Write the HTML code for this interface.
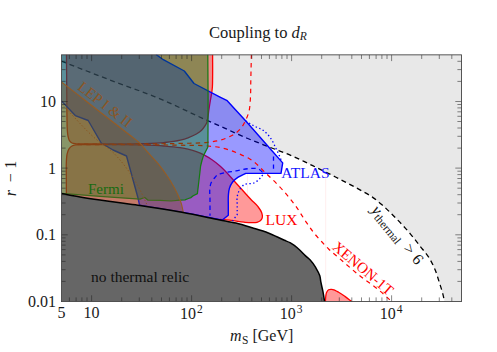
<!DOCTYPE html>
<html><head><meta charset="utf-8"><style>
html,body{margin:0;padding:0;background:#fff;}
svg{display:block}
text{font-family:"Liberation Serif",serif;}

</style></head><body>
<svg width="497" height="352" viewBox="0 0 497 352">
<rect width="497" height="352" fill="#fff"/>
<defs><clipPath id="pc"><rect x="61.5" y="54.85" width="400.0" height="246.65"/></clipPath></defs>
<g clip-path="url(#pc)" stroke-linejoin="round">
<!-- thermal coupling limit -->
<path d="M61.40,61.20 C77.60,67.47 93.77,73.81 110.00,80.00 C126.64,86.35 143.57,91.95 160.00,98.80 C176.10,105.51 191.63,113.57 207.60,120.60 C211.73,122.42 215.88,124.17 220.00,126.00 C226.70,128.98 233.28,132.26 240.00,135.20 C249.33,139.28 258.82,142.98 268.30,146.70 C275.24,149.43 282.33,151.80 289.20,154.70 C297.16,158.06 304.91,161.95 312.70,165.70 C320.34,169.38 327.94,173.15 335.50,177.00 C343.11,180.88 350.75,184.72 358.20,188.90 C363.19,191.70 368.35,194.29 373.00,197.60 C375.87,199.64 378.61,201.91 381.30,204.20 C386.29,208.44 390.90,213.13 395.50,217.80 C400.74,223.13 405.90,228.58 410.70,234.30 C413.81,238.01 416.72,241.88 419.70,245.70 C422.93,249.84 426.57,253.74 429.30,258.20 C431.55,261.87 433.45,265.81 435.10,269.80 C436.65,273.56 437.75,277.52 439.00,281.40 C440.33,285.55 441.72,289.68 442.80,293.90 C443.47,296.51 444.00,299.17 444.60,301.80 L461.60,301.80 L461.60,54.40 L61.40,54.40 Z" fill="rgba(0,0,0,0.09)"/>
<path d="M61.40,61.20 C77.60,67.47 93.77,73.81 110.00,80.00 C126.64,86.35 143.57,91.95 160.00,98.80 C176.10,105.51 191.63,113.57 207.60,120.60 C211.73,122.42 215.88,124.17 220.00,126.00 C226.70,128.98 233.28,132.26 240.00,135.20 C249.33,139.28 258.82,142.98 268.30,146.70 C275.24,149.43 282.33,151.80 289.20,154.70 C297.16,158.06 304.91,161.95 312.70,165.70 C320.34,169.38 327.94,173.15 335.50,177.00 C343.11,180.88 350.75,184.72 358.20,188.90 C363.19,191.70 368.35,194.29 373.00,197.60 C375.87,199.64 378.61,201.91 381.30,204.20 C386.29,208.44 390.90,213.13 395.50,217.80 C400.74,223.13 405.90,228.58 410.70,234.30 C413.81,238.01 416.72,241.88 419.70,245.70 C422.93,249.84 426.57,253.74 429.30,258.20 C431.55,261.87 433.45,265.81 435.10,269.80 C436.65,273.56 437.75,277.52 439.00,281.40 C440.33,285.55 441.72,289.68 442.80,293.90 C443.47,296.51 444.00,299.17 444.60,301.80" fill="none" stroke="#000" stroke-width="1.3" stroke-dasharray="5 3.7"/>
<!-- LUX -->
<g fill="rgba(255,0,0,0.4)">
<path d="M212.60,54.40 C212.60,62.27 212.73,70.13 212.60,78.00 C212.55,81.00 212.63,84.01 212.40,87.00 C212.24,89.01 211.98,91.01 211.70,93.00 C211.32,95.68 210.74,98.33 210.30,101.00 C209.80,104.00 209.34,107.00 208.90,110.00 C208.48,112.83 208.27,115.70 207.70,118.50 C207.44,119.81 207.26,121.16 206.80,122.40 C206.31,123.73 205.57,125.00 204.80,126.20 C203.88,127.63 202.80,129.01 201.60,130.20 C200.09,131.69 198.22,132.89 196.40,134.00 C193.79,135.59 190.88,136.74 188.00,137.80 C185.49,138.72 182.89,139.45 180.30,140.10 C174.98,141.43 169.46,142.00 164.00,142.60 C156.05,143.47 148.00,143.46 140.00,143.70 C126.68,144.11 113.33,143.88 100.00,143.90 C94.00,143.91 88.00,143.97 82.00,143.90 C80.00,143.88 77.98,144.05 76.00,143.80 C74.66,143.63 73.15,143.62 72.00,143.00 C71.00,142.46 70.04,141.54 69.40,140.60 C68.52,139.32 68.34,137.56 68.00,136.00 C67.57,134.04 67.47,132.00 67.30,130.00 C67.02,126.68 67.08,123.33 67.00,120.00 C66.84,113.34 66.86,106.67 66.80,100.00 C66.66,84.80 66.60,69.60 66.50,54.40 Z"/>
<path d="M82.00,144.70 C80.00,144.77 77.96,144.56 76.00,144.90 C74.65,145.14 73.17,145.34 72.00,146.00 C70.84,146.65 69.77,147.72 69.00,148.80 C67.96,150.26 67.54,152.22 67.10,154.00 C66.55,156.26 66.56,158.66 66.40,161.00 C66.08,165.65 66.31,170.33 66.30,175.00 C66.29,181.40 66.37,187.80 66.40,194.20 L66.50,205.00 L220.00,228.00 L220.00,219.30 C224.33,219.73 228.68,220.06 233.00,220.60 C236.68,221.06 240.32,221.84 244.00,222.20 C246.66,222.46 249.34,222.77 252.00,222.70 C253.67,222.66 255.42,222.76 257.00,222.30 C258.14,221.97 259.41,221.56 260.30,220.80 C261.00,220.20 261.65,219.36 262.00,218.50 C262.31,217.74 262.40,216.83 262.40,216.00 C262.40,214.82 261.99,213.62 261.60,212.50 C260.82,210.27 259.26,208.28 257.80,206.40 C255.97,204.03 253.50,202.16 251.40,200.00 C245.82,194.27 240.73,188.07 235.30,182.20 C230.26,176.75 225.63,170.82 220.00,166.00 C217.44,163.81 214.78,161.70 212.00,159.80 C209.56,158.14 207.02,156.57 204.40,155.20 C201.82,153.84 199.14,152.60 196.40,151.60 C193.67,150.60 190.83,149.86 188.00,149.20 C185.36,148.58 182.68,148.13 180.00,147.70 C174.71,146.85 169.34,146.44 164.00,146.00 C156.02,145.35 148.00,145.14 140.00,144.90 C126.68,144.49 113.33,144.72 100.00,144.70 C94.00,144.69 88.00,144.70 82.00,144.70 Z"/>
<path d="M325.40,301.80 C325.53,299.87 325.48,297.90 325.80,296.00 C326.02,294.72 326.13,293.34 326.70,292.20 C327.16,291.28 327.76,290.18 328.60,289.70 C329.39,289.26 330.55,289.25 331.50,289.30 C332.69,289.36 333.88,289.86 335.00,290.30 C336.26,290.80 337.42,291.52 338.60,292.20 C340.79,293.46 342.84,294.94 344.90,296.40 C347.32,298.12 349.63,300.00 352.00,301.80 Z"/>
</g>
<path d="M325.7,176 V301 M247.4,174 V197" stroke="rgba(255,0,0,0.09)" stroke-width="0.8" fill="none"/>
<g fill="none" stroke="#ff0000" stroke-width="1.3">
<path d="M212.60,54.40 C212.60,62.27 212.73,70.13 212.60,78.00 C212.55,81.00 212.63,84.01 212.40,87.00 C212.24,89.01 211.98,91.01 211.70,93.00 C211.32,95.68 210.74,98.33 210.30,101.00 C209.80,104.00 209.34,107.00 208.90,110.00 C208.48,112.83 208.27,115.70 207.70,118.50 C207.44,119.81 207.26,121.16 206.80,122.40 C206.31,123.73 205.57,125.00 204.80,126.20 C203.88,127.63 202.80,129.01 201.60,130.20 C200.09,131.69 198.22,132.89 196.40,134.00 C193.79,135.59 190.88,136.74 188.00,137.80 C185.49,138.72 182.89,139.45 180.30,140.10 C174.98,141.43 169.46,142.00 164.00,142.60 C156.05,143.47 148.00,143.46 140.00,143.70 C126.68,144.11 113.33,143.88 100.00,143.90 C94.00,143.91 88.00,143.97 82.00,143.90 C80.00,143.88 77.98,144.05 76.00,143.80 C74.66,143.63 73.15,143.62 72.00,143.00 C71.00,142.46 70.04,141.54 69.40,140.60 C68.52,139.32 68.34,137.56 68.00,136.00 C67.57,134.04 67.47,132.00 67.30,130.00 C67.02,126.68 67.08,123.33 67.00,120.00 C66.84,113.34 66.86,106.67 66.80,100.00 C66.66,84.80 66.60,69.60 66.50,54.40"/>
<path d="M82.00,144.70 C80.00,144.77 77.96,144.56 76.00,144.90 C74.65,145.14 73.17,145.34 72.00,146.00 C70.84,146.65 69.77,147.72 69.00,148.80 C67.96,150.26 67.54,152.22 67.10,154.00 C66.55,156.26 66.56,158.66 66.40,161.00 C66.08,165.65 66.31,170.33 66.30,175.00 C66.29,181.40 66.37,187.80 66.40,194.20"/>
<path d="M220.00,219.30 C224.33,219.73 228.68,220.06 233.00,220.60 C236.68,221.06 240.32,221.84 244.00,222.20 C246.66,222.46 249.34,222.77 252.00,222.70 C253.67,222.66 255.42,222.76 257.00,222.30 C258.14,221.97 259.41,221.56 260.30,220.80 C261.00,220.20 261.65,219.36 262.00,218.50 C262.31,217.74 262.40,216.83 262.40,216.00 C262.40,214.82 261.99,213.62 261.60,212.50 C260.82,210.27 259.26,208.28 257.80,206.40 C255.97,204.03 253.50,202.16 251.40,200.00 C245.82,194.27 240.73,188.07 235.30,182.20 C230.26,176.75 225.63,170.82 220.00,166.00 C217.44,163.81 214.78,161.70 212.00,159.80 C209.56,158.14 207.02,156.57 204.40,155.20 C201.82,153.84 199.14,152.60 196.40,151.60 C193.67,150.60 190.83,149.86 188.00,149.20 C185.36,148.58 182.68,148.13 180.00,147.70 C174.71,146.85 169.34,146.44 164.00,146.00 C156.02,145.35 148.00,145.14 140.00,144.90 C126.68,144.49 113.33,144.72 100.00,144.70 C94.00,144.69 88.00,144.70 82.00,144.70"/>
<path d="M325.40,301.80 C325.53,299.87 325.48,297.90 325.80,296.00 C326.02,294.72 326.13,293.34 326.70,292.20 C327.16,291.28 327.76,290.18 328.60,289.70 C329.39,289.26 330.55,289.25 331.50,289.30 C332.69,289.36 333.88,289.86 335.00,290.30 C336.26,290.80 337.42,291.52 338.60,292.20 C340.79,293.46 342.84,294.94 344.90,296.40 C347.32,298.12 349.63,300.00 352.00,301.80"/>
</g>
<!-- ATLAS -->
<path d="M61.40,54.40 L156.00,54.40 L163.30,59.70 L184.30,71.00 L194.00,83.50 L220.00,97.10 L227.20,100.70 L245.80,121.00 L271.30,150.00 L282.70,162.90 L281.00,173.40 L245.80,173.40 L245.80,173.40 C243.27,174.67 240.53,175.62 238.20,177.20 C236.18,178.57 234.08,180.10 232.60,182.00 C231.17,183.85 230.10,186.15 229.40,188.40 C228.75,190.50 228.61,192.79 228.40,195.00 C228.09,198.31 228.33,201.67 228.30,205.00 L228.30,205.00 L228.30,215.20 L222.60,219.80 L220.00,228.00 L139.50,212.00 L139.50,204.80 L138.00,198.00 L126.50,156.00 L113.00,150.00 L101.20,143.00 L88.20,120.50 L75.30,115.60 L61.40,100.90 Z" fill="rgba(0,0,255,0.4)"/>
<g fill="none" stroke="#0000ff" stroke-width="1.4">
<path d="M156.00,54.40 L163.30,59.70 L184.30,71.00 L194.00,83.50 L220.00,97.10 L227.20,100.70 L245.80,121.00 L271.30,150.00 L282.70,162.90 L281.00,173.40 L245.80,173.40 L245.80,173.40 C243.27,174.67 240.53,175.62 238.20,177.20 C236.18,178.57 234.08,180.10 232.60,182.00 C231.17,183.85 230.10,186.15 229.40,188.40 C228.75,190.50 228.61,192.79 228.40,195.00 C228.09,198.31 228.33,201.67 228.30,205.00 L228.30,205.00 L228.30,215.20 L222.60,219.80"/>
<path d="M222.60,220.30 L181.90,212.30 L139.50,205.20"/>
<path d="M139.50,204.80 L138.00,198.00 L126.50,156.00 L113.00,150.00 L101.20,143.00 L88.20,120.50 L75.30,115.60 L61.40,100.90"/>
</g>
<g fill="none" stroke="#0000ff" stroke-width="1.3" stroke-dasharray="4.4 3.6">
<path d="M273.50,156.40 L273.50,171.50"/>
<path d="M262.50,172.20 C261.60,171.40 260.81,170.42 259.80,169.80 C258.81,169.19 257.64,168.75 256.50,168.50 C255.06,168.18 253.50,168.38 252.00,168.40 C246.62,168.49 241.33,170.02 236.00,170.90 C231.33,171.67 226.57,172.10 222.00,173.30 C220.73,173.64 219.33,173.80 218.20,174.40 C216.59,175.26 215.39,176.95 214.20,178.40 C212.89,179.99 211.50,181.69 210.80,183.60 C210.35,184.83 210.20,186.19 210.00,187.50 C209.36,191.60 210.00,195.83 210.00,200.00 C210.00,205.27 210.00,210.53 210.00,215.80"/>
</g>
<g fill="none" stroke="#0000ff" stroke-width="1.3" stroke-dasharray="1.4 2.4">
<path d="M245.80,121.00 C248.47,122.60 251.08,124.30 253.80,125.80 C256.96,127.54 260.66,128.49 263.50,130.60 C266.64,132.94 269.34,136.19 271.50,139.50 C273.12,141.97 274.21,144.81 275.50,147.50 C276.53,149.65 277.49,151.84 278.50,154.00 C279.13,155.34 279.89,156.62 280.40,158.00 C280.88,159.29 281.13,160.67 281.50,162.00"/>
<path d="M262.70,175.00 C261.33,176.60 260.17,178.43 258.60,179.80 C257.17,181.06 255.51,182.21 253.80,183.00 C250.91,184.33 246.79,182.98 244.20,184.60 C242.20,185.85 240.48,188.15 239.30,190.30 C238.24,192.23 237.59,194.52 237.20,196.70 C236.72,199.39 237.20,202.23 237.20,205.00 L237.20,214.60 L232.50,221.00"/>
</g>
<!-- XENON1T projection -->
<g fill="none" stroke="#ff0000" stroke-width="1.2" stroke-dasharray="4.4 4.2">
<path d="M251.40,54.40 C251.20,62.93 251.01,71.47 250.80,80.00 C250.64,86.67 250.85,93.36 250.30,100.00 C249.99,103.78 249.92,107.65 249.00,111.30 C248.25,114.28 247.11,117.22 245.80,120.00 C244.46,122.85 243.00,125.78 241.00,128.20 C239.54,129.97 237.82,131.61 236.00,133.00 C233.60,134.83 230.77,136.16 228.00,137.40 C225.42,138.56 222.72,139.54 220.00,140.30 C215.98,141.42 211.75,141.79 207.60,142.30 C198.48,143.42 189.20,143.14 180.00,143.40 C166.67,143.78 153.33,143.79 140.00,143.90 C119.23,144.07 98.47,143.97 77.70,144.00"/>
<path d="M77.70,144.60 C98.47,144.67 119.23,144.65 140.00,144.80 C153.33,144.90 166.67,144.92 180.00,145.20 C189.20,145.40 198.44,145.16 207.60,146.00 C211.74,146.38 215.93,146.67 220.00,147.50 C223.82,148.28 227.60,149.43 231.30,150.70 C235.63,152.19 239.86,154.03 244.00,156.00 C245.68,156.80 247.38,157.59 249.00,158.50 C255.80,162.33 260.99,168.64 266.70,174.00 C272.81,179.74 278.88,185.60 284.40,191.90 C288.36,196.43 292.17,201.13 295.70,206.00 C299.39,211.08 302.44,216.62 306.00,221.80 C308.60,225.58 311.13,229.43 314.00,233.00 C316.51,236.12 319.29,239.04 322.00,242.00 C324.17,244.36 326.31,246.76 328.60,249.00 C332.19,252.52 336.19,255.61 340.00,258.90 C346.57,264.57 353.03,270.38 359.80,275.80 C366.25,280.96 373.29,285.38 379.60,290.70 C383.37,293.88 386.93,297.30 390.60,300.60"/>
</g>
<!-- Fermi -->
<path d="M61.40,54.40 L207.80,54.40 L208.10,100.00 L208.00,130.00 L207.90,147.00 L203.60,155.40 L202.10,160.00 L200.60,166.00 L199.60,175.00 L197.40,193.60 L193.20,195.80 L191.00,197.60 L188.40,198.50 L185.00,199.80 L180.00,200.20 L171.00,201.00 L160.00,200.40 L148.00,200.20 L144.80,197.50 L140.00,199.20 L100.00,196.40 L61.40,193.30 Z" fill="rgba(0,128,10,0.41)"/>
<path d="M207.80,54.40 L208.10,100.00 L208.00,130.00 L207.90,147.00 L203.60,155.40 L202.10,160.00 L200.60,166.00 L199.60,175.00 L197.40,193.60 L193.20,195.80 L191.00,197.60 L188.40,198.50 L185.00,199.80 L180.00,200.20 L171.00,201.00 L160.00,200.40 L148.00,200.20 L144.80,197.50 L140.00,199.20 L100.00,196.40 L61.40,193.30" fill="none" stroke="#167a14" stroke-width="1.25"/>
<!-- LEP -->
<path d="M61.40,82.00 C64.27,84.20 67.14,86.39 70.00,88.60 C75.02,92.47 80.00,96.40 85.00,100.30 C90.00,104.20 95.00,108.10 100.00,112.00 C109.99,119.78 120.05,127.47 130.00,135.30 C133.34,137.93 136.97,140.25 140.00,143.20 C142.71,145.84 144.90,149.03 147.40,151.90 C151.09,156.13 155.17,160.04 158.70,164.40 C161.71,168.12 164.53,172.02 167.20,176.00 C168.15,177.42 169.09,178.85 170.00,180.30 C172.52,184.34 174.88,188.50 176.90,192.80 C178.64,196.50 180.37,200.28 181.50,204.20 C182.24,206.75 182.63,209.40 183.20,212.00 L184.00,220.00 L61.40,205.00 Z" fill="rgba(119,80,42,0.43)"/>
<path d="M61.40,82.00 C64.27,84.20 67.14,86.39 70.00,88.60 C75.02,92.47 80.00,96.40 85.00,100.30 C90.00,104.20 95.00,108.10 100.00,112.00 C109.99,119.78 120.05,127.47 130.00,135.30 C133.34,137.93 136.97,140.25 140.00,143.20 C142.71,145.84 144.90,149.03 147.40,151.90 C151.09,156.13 155.17,160.04 158.70,164.40 C161.71,168.12 164.53,172.02 167.20,176.00 C168.15,177.42 169.09,178.85 170.00,180.30 C172.52,184.34 174.88,188.50 176.90,192.80 C178.64,196.50 180.37,200.28 181.50,204.20 C182.24,206.75 182.63,209.40 183.20,212.00" fill="none" stroke="#985c22" stroke-width="1.1"/>
<path d="M63.20,105.60 C75.53,117.93 86.48,131.89 100.20,142.60 C103.71,145.34 107.67,147.56 111.00,150.50 C114.26,153.37 117.16,156.70 120.00,160.00 C123.50,164.06 126.76,168.38 129.80,172.80 C132.67,176.96 135.37,181.27 137.80,185.70 C139.59,188.96 141.20,192.33 142.80,195.70 C144.26,198.77 145.72,201.85 147.00,205.00 C147.13,205.33 147.27,205.67 147.40,206.00" fill="none" stroke="#8a5420" stroke-width="1.0" stroke-dasharray="1.3 2.1"/>
<!-- no thermal relic -->
<path d="M61.40,193.60 C67.60,194.70 73.79,195.87 80.00,196.90 C86.65,198.01 93.33,199.02 100.00,200.00 C106.66,200.98 113.33,201.90 120.00,202.80 C126.66,203.70 133.34,204.46 140.00,205.40 C154.01,207.38 167.98,209.76 181.90,212.30 C194.64,214.63 207.30,217.36 220.00,219.90 C225.33,220.97 230.72,221.81 236.00,223.10 C241.46,224.43 246.82,226.15 252.20,227.80 C257.59,229.45 263.05,230.98 268.30,233.00 C273.79,235.12 279.00,237.95 284.40,240.30 C286.26,241.11 288.21,241.76 290.00,242.70 C293.56,244.57 296.69,247.31 299.70,250.00 C301.66,251.76 303.36,253.81 305.30,255.60 C306.82,257.01 308.57,258.21 310.00,259.70 C312.27,262.06 314.11,264.88 315.80,267.70 C317.34,270.27 318.95,272.94 319.80,275.80 C320.41,277.85 320.50,280.07 320.90,282.20 C321.52,285.45 322.39,288.65 323.00,291.90 C323.62,295.18 324.07,298.50 324.60,301.80 L61.40,301.80 Z" fill="#666"/>
<path d="M61.40,193.60 C67.60,194.70 73.79,195.87 80.00,196.90 C86.65,198.01 93.33,199.02 100.00,200.00 C106.66,200.98 113.33,201.90 120.00,202.80 C126.66,203.70 133.34,204.46 140.00,205.40 C154.01,207.38 167.98,209.76 181.90,212.30 C194.64,214.63 207.30,217.36 220.00,219.90 C225.33,220.97 230.72,221.81 236.00,223.10 C241.46,224.43 246.82,226.15 252.20,227.80 C257.59,229.45 263.05,230.98 268.30,233.00 C273.79,235.12 279.00,237.95 284.40,240.30 C286.26,241.11 288.21,241.76 290.00,242.70 C293.56,244.57 296.69,247.31 299.70,250.00 C301.66,251.76 303.36,253.81 305.30,255.60 C306.82,257.01 308.57,258.21 310.00,259.70 C312.27,262.06 314.11,264.88 315.80,267.70 C317.34,270.27 318.95,272.94 319.80,275.80 C320.41,277.85 320.50,280.07 320.90,282.20 C321.52,285.45 322.39,288.65 323.00,291.90 C323.62,295.18 324.07,298.50 324.60,301.80" fill="none" stroke="#000" stroke-width="1.5"/>
</g>
<!-- frame & ticks -->
<path d="M69.4,301.5 v-4.1 M69.4,54.9 v4.1 M76.1,301.5 v-4.1 M76.1,54.9 v4.1 M81.9,301.5 v-4.1 M81.9,54.9 v4.1 M87.0,301.5 v-4.1 M87.0,54.9 v4.1 M91.6,301.5 v-6.2 M91.6,54.9 v6.2 M121.7,301.5 v-4.1 M121.7,54.9 v4.1 M139.3,301.5 v-4.1 M139.3,54.9 v4.1 M151.8,301.5 v-4.1 M151.8,54.9 v4.1 M161.5,301.5 v-4.1 M161.5,54.9 v4.1 M169.4,301.5 v-4.1 M169.4,54.9 v4.1 M176.1,301.5 v-4.1 M176.1,54.9 v4.1 M181.9,301.5 v-4.1 M181.9,54.9 v4.1 M187.0,301.5 v-4.1 M187.0,54.9 v4.1 M191.6,301.5 v-6.2 M191.6,54.9 v6.2 M221.7,301.5 v-4.1 M221.7,54.9 v4.1 M239.3,301.5 v-4.1 M239.3,54.9 v4.1 M251.8,301.5 v-4.1 M251.8,54.9 v4.1 M261.5,301.5 v-4.1 M261.5,54.9 v4.1 M269.4,301.5 v-4.1 M269.4,54.9 v4.1 M276.1,301.5 v-4.1 M276.1,54.9 v4.1 M281.9,301.5 v-4.1 M281.9,54.9 v4.1 M287.0,301.5 v-4.1 M287.0,54.9 v4.1 M291.6,301.5 v-6.2 M291.6,54.9 v6.2 M321.7,301.5 v-4.1 M321.7,54.9 v4.1 M339.3,301.5 v-4.1 M339.3,54.9 v4.1 M351.8,301.5 v-4.1 M351.8,54.9 v4.1 M361.5,301.5 v-4.1 M361.5,54.9 v4.1 M369.4,301.5 v-4.1 M369.4,54.9 v4.1 M376.1,301.5 v-4.1 M376.1,54.9 v4.1 M381.9,301.5 v-4.1 M381.9,54.9 v4.1 M387.0,301.5 v-4.1 M387.0,54.9 v4.1 M391.6,301.5 v-6.2 M391.6,54.9 v6.2 M421.7,301.5 v-4.1 M421.7,54.9 v4.1 M439.3,301.5 v-4.1 M439.3,54.9 v4.1 M451.8,301.5 v-4.1 M451.8,54.9 v4.1 M61.5,281.4 h4.1 M461.5,281.4 h-4.1 M61.5,269.7 h4.1 M461.5,269.7 h-4.1 M61.5,261.4 h4.1 M461.5,261.4 h-4.1 M61.5,254.9 h4.1 M461.5,254.9 h-4.1 M61.5,249.6 h4.1 M461.5,249.6 h-4.1 M61.5,245.1 h4.1 M461.5,245.1 h-4.1 M61.5,241.3 h4.1 M461.5,241.3 h-4.1 M61.5,237.9 h4.1 M461.5,237.9 h-4.1 M61.5,234.8 h6.2 M461.5,234.8 h-6.2 M61.5,214.7 h4.1 M461.5,214.7 h-4.1 M61.5,203.0 h4.1 M461.5,203.0 h-4.1 M61.5,194.7 h4.1 M461.5,194.7 h-4.1 M61.5,188.2 h4.1 M461.5,188.2 h-4.1 M61.5,182.9 h4.1 M461.5,182.9 h-4.1 M61.5,178.5 h4.1 M461.5,178.5 h-4.1 M61.5,174.6 h4.1 M461.5,174.6 h-4.1 M61.5,171.2 h4.1 M461.5,171.2 h-4.1 M61.5,168.1 h6.2 M461.5,168.1 h-6.2 M61.5,148.1 h4.1 M461.5,148.1 h-4.1 M61.5,136.3 h4.1 M461.5,136.3 h-4.1 M61.5,128.0 h4.1 M461.5,128.0 h-4.1 M61.5,121.5 h4.1 M461.5,121.5 h-4.1 M61.5,116.3 h4.1 M461.5,116.3 h-4.1 M61.5,111.8 h4.1 M461.5,111.8 h-4.1 M61.5,107.9 h4.1 M461.5,107.9 h-4.1 M61.5,104.5 h4.1 M461.5,104.5 h-4.1 M61.5,101.5 h6.2 M461.5,101.5 h-6.2 M61.5,81.4 h4.1 M461.5,81.4 h-4.1 M61.5,69.6 h4.1 M461.5,69.6 h-4.1 M61.5,61.3 h4.1 M461.5,61.3 h-4.1" stroke="#222" stroke-width="0.55" fill="none"/>
<rect x="61.5" y="54.85" width="400.0" height="246.7" fill="none" stroke="#444" stroke-width="0.9"/>
<!-- labels -->
<text x="209" y="37.8" font-size="16.5" fill="#1a1a1a">Coupling to <tspan font-style="italic">d</tspan><tspan font-style="italic" font-size="11.5" dy="2.6">R</tspan></text>
<text x="56" y="106.7" font-size="16" fill="#1a1a1a" text-anchor="end">10</text>
<text x="56" y="173.5" font-size="16" fill="#1a1a1a" text-anchor="end">1</text>
<text x="56" y="240.2" font-size="16" fill="#1a1a1a" text-anchor="end">0.1</text>
<text x="56" y="306.8" font-size="16" fill="#1a1a1a" text-anchor="end">0.01</text>
<text x="61.6" y="318" font-size="16" fill="#1a1a1a" text-anchor="middle">5</text>
<text x="91.6" y="318" font-size="16" fill="#1a1a1a" text-anchor="middle">10</text>
<text x="180" y="318.6" font-size="16" fill="#1a1a1a">10<tspan font-size="11.5" dy="-5.4" dx="1">2</tspan></text>
<text x="279.8" y="318.6" font-size="16" fill="#1a1a1a">10<tspan font-size="11.5" dy="-5.4" dx="1">3</tspan></text>
<text x="379.8" y="318.6" font-size="16" fill="#1a1a1a">10<tspan font-size="11.5" dy="-5.4" dx="1">4</tspan></text>
<text x="230" y="341" font-size="16" fill="#1a1a1a"><tspan font-style="italic">m</tspan><tspan font-size="11.5" dy="2.6" dx="0.5">S</tspan><tspan dy="-2.6" dx="4">[GeV]</tspan></text>
<text font-size="16" font-style="italic" fill="#1a1a1a" transform="translate(16.00,196.20) rotate(-90.00)">r</text>
<text font-size="16" fill="#1a1a1a" text-anchor="middle" transform="translate(16.00,177.65) rotate(-90.00)">−</text>
<text font-size="16" fill="#1a1a1a" transform="translate(16.00,168.70) rotate(-90.00)">1</text>
<text x="91" y="281.7" font-size="15.5" fill="#111">no thermal relic</text>
<text x="88" y="194.3" font-size="15" fill="#176b12">Fermi</text>
<text x="281.3" y="178.2" font-size="15.5" fill="#1414ff">ATLAS</text>
<text x="265.5" y="225" font-size="15.5" fill="#ff0000">LUX</text>
<text font-size="15" fill="#8c5624" transform="translate(76.70,88.70) rotate(37.90)">LEP I &amp; II</text>
<text font-size="15" fill="#ff0000" transform="translate(331.60,248.20) rotate(40.20)">XENON-1T</text>
<text font-size="16" fill="#111" transform="translate(370.80,210.40) rotate(50.50)"><tspan x="0" y="0" font-style="italic">y</tspan><tspan x="7.5" y="2.6" font-size="11.5">thermal</tspan><tspan x="50" y="0">&gt;</tspan><tspan x="63.5" y="0">6</tspan></text>
</svg>
</body></html>
